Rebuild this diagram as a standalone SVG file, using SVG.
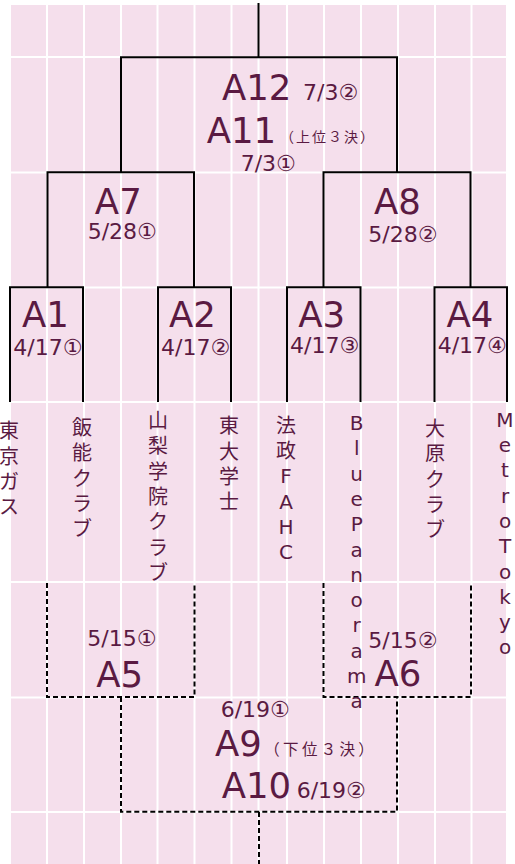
<svg xmlns="http://www.w3.org/2000/svg" width="515" height="864" viewBox="0 0 515 864">
<style>
.bg{fill:#f5dfec}
.grid line{stroke:#ffffff;stroke-width:2}
.ln{fill:none;stroke:#000;stroke-width:2}
.dash{fill:none;stroke:#000;stroke-width:2;stroke-dasharray:5 3}
text{font-family:"DejaVu Sans","Noto Sans CJK JP",sans-serif;fill:#5a1a42}
.big{font-size:35.5px}
.dt{font-size:22px}
.vt{font-size:20px;text-anchor:middle}
.sm{font-family:"Noto Sans CJK JP","DejaVu Sans",sans-serif}
.mid{text-anchor:middle}
</style>
<rect class="bg" x="11" y="5" width="495" height="859"/>
<g class="grid">
<line x1="47" y1="5" x2="47" y2="864"/>
<line x1="84" y1="5" x2="84" y2="864"/>
<line x1="121" y1="5" x2="121" y2="864"/>
<line x1="157.5" y1="5" x2="157.5" y2="864"/>
<line x1="194.5" y1="5" x2="194.5" y2="864"/>
<line x1="231.5" y1="5" x2="231.5" y2="864"/>
<line x1="258.5" y1="5" x2="258.5" y2="864"/>
<line x1="287" y1="5" x2="287" y2="864"/>
<line x1="324" y1="5" x2="324" y2="864"/>
<line x1="361" y1="5" x2="361" y2="864"/>
<line x1="398" y1="5" x2="398" y2="864"/>
<line x1="435" y1="5" x2="435" y2="864"/>
<line x1="471.5" y1="5" x2="471.5" y2="864"/>
<line x1="11" y1="57" x2="506" y2="57"/>
<line x1="11" y1="172.5" x2="506" y2="172.5"/>
<line x1="11" y1="287.5" x2="506" y2="287.5"/>
<line x1="11" y1="402" x2="506" y2="402"/>
<line x1="11" y1="582" x2="506" y2="582"/>
<line x1="11" y1="697.5" x2="506" y2="697.5"/>
<line x1="11" y1="812" x2="506" y2="812"/>
</g>
<g id="connectors">
<path class="ln" d="M258.5 3V57"/>
<path class="ln" d="M121 172V57.3H397V172"/>
<path class="ln" d="M47.5 287V172.3H194V287"/>
<path class="ln" d="M323.5 287V172.3H470.5V287"/>
<path class="ln" d="M10 402V287.3H83V402"/>
<path class="ln" d="M158 402V287.3H231V402"/>
<path class="ln" d="M287 402V287.3H360.5V402"/>
<path class="ln" d="M434.5 402V287.3H507V402"/>
<path class="dash" d="M47 583V697H194.5V583"/>
<path class="dash" d="M323.5 583V697H471V583"/>
<path class="dash" d="M121 697V811.7H397V697"/>
<path class="dash" d="M259 812V864"/>
</g>
<g id="A12">
<text class="big" x="222" y="100">A12</text>
<text class="dt" x="303" y="100">7/3②</text>
</g>
<g id="A11">
<text class="big" x="206.7" y="142.5">A11</text>
<text class="sm" x="280" y="141.5" font-size="14" letter-spacing="2">（上位３決）</text>
<text class="dt" x="240.7" y="171">7/3①</text>
</g>
<g id="A7">
<text class="big mid" x="118.3" y="214.3">A7</text>
<text class="dt" x="87.7" y="239">5/28①</text>
</g>
<g id="A8">
<text class="big mid" x="397.5" y="214">A8</text>
<text class="dt" x="368.3" y="241.7">5/28②</text>
</g>
<g id="A1">
<text class="big mid" x="45.5" y="326.7">A1</text>
<text class="dt" x="13.3" y="355">4/17①</text>
</g>
<g id="A2">
<text class="big mid" x="192.5" y="326.7">A2</text>
<text class="dt" x="161" y="355">4/17②</text>
</g>
<g id="A3">
<text class="big mid" x="321.7" y="326.7">A3</text>
<text class="dt" x="290" y="353.3">4/17③</text>
</g>
<g id="A4">
<text class="big mid" x="470" y="326.7">A4</text>
<text class="dt" x="437.7" y="353.3">4/17④</text>
</g>
<g id="teams">
<text class="vt" x="9 9 9 9" y="438.3 463.6 488.9 514.2">東京ガス</text>
<text class="vt" x="82 82 82 82 82" y="435 460.3 485.6 510.9 536.2">飯能クラブ</text>
<text class="vt" x="158 158 158 158 158 158 158" y="428 453.3 478.6 503.9 529.2 554.5 579.8">山梨学院クラブ</text>
<text class="vt" x="229 229 229 229" y="433.4 458.7 484 509.3">東大学士</text>
<text class="vt" x="286 286 286 286 286 286" y="432.6 457.9 483.2 508.5 533.8 559.1">法政FAHC</text>
<text class="vt" x="356.7 356.7 356.7 356.7 356.7 356.7 356.7 356.7 356.7 356.7 356.7 356.7" y="430 455.3 480.6 505.9 531.2 556.5 581.8 607.1 632.4 657.7 683 708.3">BluePanorama</text>
<text class="vt" x="435 435 435 435 435" y="436 461.3 486.6 511.9 537.2">大原クラブ</text>
<text class="vt" x="505 505 505 505 505 505 505 505 505 505" y="426.7 452 477.3 502.6 527.9 553.2 578.5 603.8 629.1 654.4">MetroTokyo</text>
</g>
<g id="A5">
<text class="dt" x="87.3" y="645.7">5/15①</text>
<text class="big mid" x="119.7" y="686.7">A5</text>
</g>
<g id="A6">
<text class="dt" x="368.3" y="648.3">5/15②</text>
<text class="big mid" x="398" y="686">A6</text>
</g>
<g id="A9">
<text class="dt" x="220.7" y="716.7">6/19①</text>
<text class="big" x="215" y="755.7">A9</text>
<text class="sm" x="264.3" y="755" font-size="15.5" letter-spacing="3.3">（下位３決）</text>
</g>
<g id="A10">
<text class="big" x="221.7" y="797.7">A10</text>
<text class="dt" x="296.7" y="797.7">6/19②</text>
</g>
</svg>
